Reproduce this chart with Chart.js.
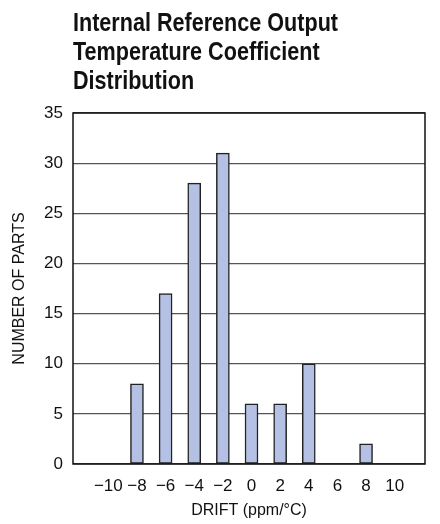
<!DOCTYPE html>
<html>
<head>
<meta charset="utf-8">
<script src="https://cdn.jsdelivr.net/npm/chart.js@4"></script>
<style>
  html, body { margin: 0; padding: 0; background: #fff; }
  #wrap { position: relative; width: 440px; height: 524px; }
  #title {
    position: absolute; left: 73px; top: 8px;
    font: bold 26px "Liberation Sans", Arial, sans-serif;
    line-height: 29px; color: #111; white-space: nowrap;
    transform: scaleX(0.83); transform-origin: 0 0;
  }
  canvas { position: absolute; left: 0; top: 0; }
</style>
</head>
<body>
<div id="wrap">
  <canvas id="chart" width="440" height="524"></canvas>
  <div id="title">Internal Reference Output<br>Temperature Coefficient<br>Distribution</div>
</div>
<script>
// histogram bins (ppm/°C) and counts
const drift = [-10, -8, -6, -4, -2, 0, 2, 4, 6, 8, 10];
const parts = [0, 8, 17, 28, 31, 6, 6, 10, 0, 2, 0];
const xTicks = [-10, -8, -6, -4, -2, 0, 2, 4, 6, 8, 10];
const yTicks = [0, 5, 10, 15, 20, 25, 30, 35];

const font = '"Liberation Sans", Arial, sans-serif';

// box around the plot area
const frame = {
  id: 'frame',
  afterDraw(chart) {
    const a = chart.chartArea, c = chart.ctx;
    c.save();
    c.strokeStyle = '#111';
    c.lineWidth = 1.5;
    c.strokeRect(a.left, a.top, a.right - a.left, a.bottom - a.top);
    c.restore();
  }
};

new Chart(document.getElementById('chart'), {
  type: 'bar',
  data: {
    datasets: [{
      data: drift.map((d, i) => ({ x: d, y: parts[i] })),
      backgroundColor: '#b4c0e4',
      borderColor: '#222',
      borderWidth: 1.5,
      borderSkipped: false,
      barThickness: 13
    }]
  },
  options: {
    responsive: false,
    animation: false,
    layout: { padding: { top: 113, right: 15, left: 0, bottom: 0 } },
    plugins: { legend: { display: false }, tooltip: { enabled: false } },
    scales: {
      x: {
        type: 'linear',
        min: -11.35,
        max: 11,
        afterBuildTicks: s => { s.ticks = xTicks.map(v => ({ value: v })); },
        afterFit: s => { s.height = 60; },
        grid: { display: false, drawTicks: false },
        border: { display: false },
        ticks: {
          color: '#111',
          font: { family: font, size: 17 },
          padding: 12,
          maxRotation: 0,
          autoSkip: false,
          callback: v => v < 0 ? '\u2212' + Math.abs(v) : String(v)
        },
        title: {
          display: true,
          text: 'DRIFT (ppm/°C)',
          color: '#111',
          font: { family: font, size: 16 },
          padding: { top: 0, bottom: 4 }
        }
      },
      y: {
        min: 0,
        max: 35,
        afterBuildTicks: s => { s.ticks = yTicks.map(v => ({ value: v })); },
        afterFit: s => { s.width = 73; },
        grid: {
          drawTicks: false,
          color: '#555',
          lineWidth: 1.2
        },
        border: { display: false },
        ticks: {
          color: '#111',
          font: { family: font, size: 17 },
          padding: 10
        },
        title: {
          display: true,
          text: 'NUMBER OF PARTS',
          color: '#111',
          font: { family: font, size: 16 },
          padding: { top: 10, bottom: 6 }
        }
      }
    }
  },
  plugins: [frame]
});
</script>
</body>
</html>
